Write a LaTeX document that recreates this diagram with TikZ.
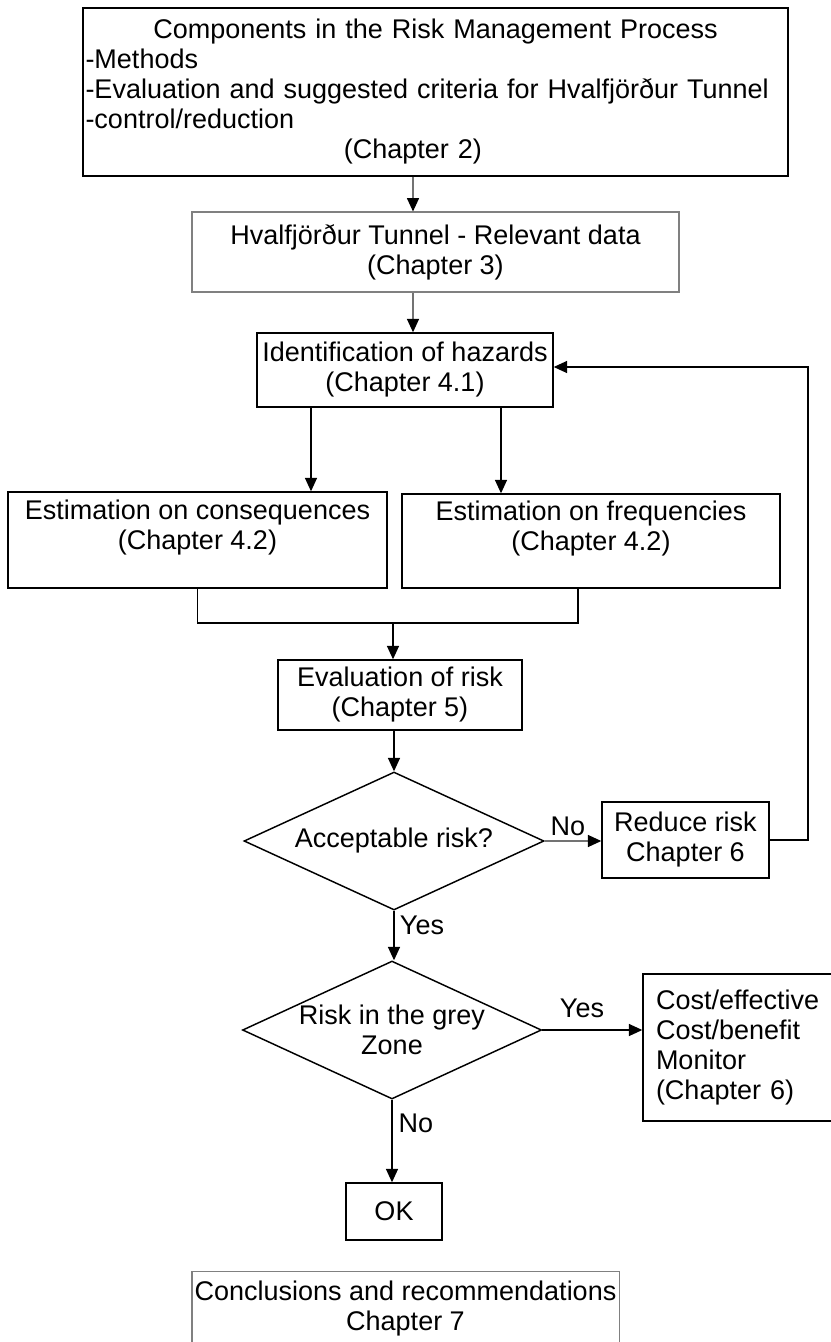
\documentclass[tikz,border=0pt]{standalone}
\usepackage{fontspec}
\setmainfont{Liberation Sans}
\usetikzlibrary{positioning, arrows.meta, shapes.geometric}
\setlength{\parindent}{0pt}

\begin{document}
\begin{tikzpicture}[
    x=0.75pt, y=-0.75pt,
    font=\fontsize{20.25}{22.5}\selectfont,
    box/.style={draw, line width=1.1pt, align=center, inner sep=2pt},
    greybox/.style={box, draw=black!50, line width=0.8pt},
    decision/.style={draw, diamond, line width=1.1pt, align=center, inner sep=-2pt, shape aspect=2.17},
    line/.style={line width=0.9pt},
    arr/.style={line, -{Triangle[length=10pt, width=9pt]}},
    arrg/.style={line, draw=black!55, -{Triangle[length=10pt, width=9pt, color=black]}},
    lbl/.style={inner sep=1pt}
]
\useasboundingbox (0,0) rectangle (831,1342);

\node[box, text width=525pt, align=left, minimum height=126pt] (comp) at (435.5,92) {\makebox[\hsize]{Components in the Risk Management Process}\\-Methods\\-Evaluation and suggested criteria for Hvalfjörður Tunnel\\-control/reduction\\\makebox[\hsize]{\hspace*{-34pt}(Chapter 2)}};
\node[greybox, minimum width=365.25pt, minimum height=60pt] (hval) at (435.5,252) {Hvalfjörður Tunnel - Relevant data\\(Chapter 3)};
\node[box, minimum width=222pt, minimum height=55.5pt] (ident) at (405,370) {Identification of hazards\\(Chapter 4.1)};
\node[box, minimum width=284.25pt, minimum height=72pt] (cons) at (197.5,540) {Estimation on consequences\\(Chapter 4.2)\\\mbox{}};
\node[box, minimum width=283.5pt, minimum height=70.5pt] (freq) at (591,541) {Estimation on frequencies\\(Chapter 4.2)\\\mbox{}};
\node[box, minimum width=183pt, minimum height=52.5pt] (eval) at (400,695) {Evaluation of risk\\(Chapter 5)};
\node[decision, minimum width=225pt, minimum height=103.5pt] (accept) at (394,841) {Acceptable risk?};
\node[box, minimum width=125.25pt, minimum height=57pt] (reduce) at (685.5,840) {Reduce risk\\Chapter 6};
\node[decision, minimum width=224.25pt, minimum height=103.5pt] (grey) at (392,1030) {Risk in the grey\\Zone};
\node[box, text width=132pt, align=left, inner xsep=9.75pt, minimum height=110.25pt] (cost) at (744,1047.5) {Cost/effective\\Cost/benefit\\Monitor\\(Chapter 6)};
\node[box, minimum width=72pt, minimum height=42.75pt] (ok) at (394,1211.5) {OK};
\node[greybox, anchor=north, minimum width=318.75pt, inner ysep=6.75pt] (concl) at (405.5,1271) {Conclusions and recommendations\\Chapter 7\rule[-40pt]{0pt}{0pt}};

\node[lbl] (no1) at (568,826) {No};
\node[lbl] (yes1) at (422,925) {Yes};
\node[lbl] (yes2) at (582,1008) {Yes};
\node[lbl] (no2) at (416,1123) {No};

\coordinate (s1) at (413,0);
\coordinate (s2) at (311,0);
\coordinate (s3) at (501,0);
\coordinate (fx) at (578,0);
\coordinate (mrg) at (393,623);
\coordinate (fb) at (808,367);

\draw[arrg] (comp.south -| s1) -- (hval.north -| s1);
\draw[arrg] (hval.south -| s1) -- (ident.north -| s1);
\draw[arr] (ident.south -| s2) -- (cons.north -| s2);
\draw[arr] (ident.south -| s3) -- (freq.north -| s3);
\draw[line] (cons.south) |- (mrg) -| (freq.south -| fx);
\draw[arr] (mrg) -- (eval.north -| mrg);
\draw[arr] (eval.south -| accept.north) -- (accept.north);
\draw[arrg] (accept.east) -- (reduce.west |- accept.east);
\draw[arr] (reduce.east) -| (fb) -- (ident.east |- fb);
\draw[arr] (accept.south) -- (accept.south |- grey.north);
\draw[arr] (grey.east) -- (cost.west |- grey.east);
\draw[arr] (grey.south) -- (grey.south |- ok.north);
\end{tikzpicture}
\end{document}
